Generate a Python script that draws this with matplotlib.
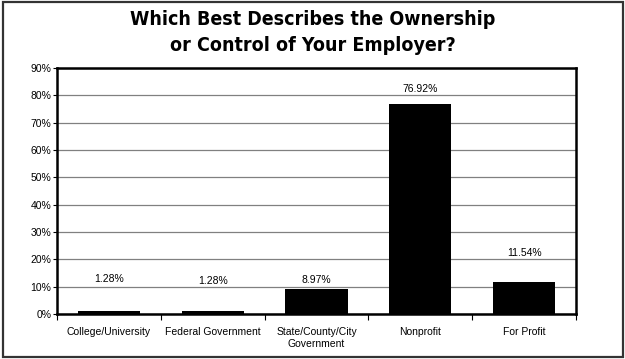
import matplotlib.pyplot as plt
from matplotlib.patches import Rectangle

categories = ["College/University", "Federal Government",
              "State/County/City\nGovernment", "Nonprofit", "For Profit"]
values = [1.28, 1.28, 8.97, 76.92, 11.54]
value_labels = ["1.28%", "1.28%", "8.97%", "76.92%", "11.54%"]
# label heights as drawn in the original (not a constant offset)
label_heights = [12.8, 12.1, 12.6, 82.3, 22.4]
yticks = [0, 10, 20, 30, 40, 50, 60, 70, 80, 90]

plt.rcParams["font.family"] = ["Liberation Sans", "DejaVu Sans"]

fig = plt.figure(figsize=(6.25, 3.59), dpi=100)
fig.patches.append(Rectangle((0.004, 0.006), 0.992, 0.988, transform=fig.transFigure,
                             fill=False, edgecolor="#333333", linewidth=1.6))

ax = fig.add_axes([0.0912, 0.1253, 0.8304, 0.6853])
x = list(range(len(categories)))
ax.bar(x, values, width=0.6, color="black", zorder=3)
for xi, lab, h in zip(x, value_labels, label_heights):
    ax.text(xi, h, lab, ha="center", va="center", fontsize=7.5, zorder=4)

ax.set_xlim(-0.5, len(categories) - 0.5)
ax.set_ylim(0, 90)
ax.set_yticks(yticks)
ax.set_yticklabels([f"{t}%" for t in yticks], fontsize=7.5)
ax.yaxis.grid(True, color="#808080", linewidth=0.9, zorder=0)
ax.set_axisbelow(True)

# tick marks sit on category boundaries, names centred under the bars
ax.set_xticks([i - 0.5 for i in range(len(categories) + 1)])
ax.set_xticklabels([])
ax.set_xticks(x, minor=True)
ax.set_xticklabels(categories, minor=True, fontsize=7.5, linespacing=1.3)
ax.tick_params(axis="x", which="minor", length=0, pad=9)
ax.tick_params(axis="x", which="major", length=4, width=0.8, direction="out")
ax.tick_params(axis="y", length=3, width=0.8, pad=1)

for side in ["top", "bottom", "left", "right"]:
    ax.spines[side].set_linewidth(1.8)

fig.text(0.5, 0.972, "Which Best Describes the Ownership\nor Control of Your Employer?",
         ha="center", va="top", fontsize=14, fontweight="bold",
         family="DejaVu Sans", fontstretch="condensed", linespacing=1.45)

fig.savefig("out.png", dpi=100)
